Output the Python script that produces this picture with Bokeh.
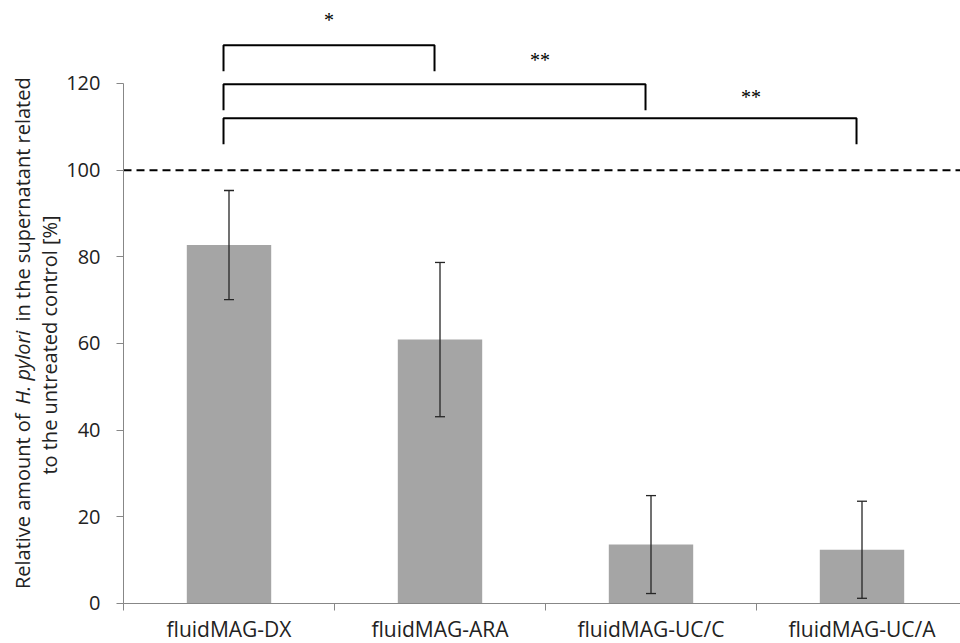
import numpy as np
from bokeh.plotting import figure
from bokeh.models import (Range1d, FixedTicker, Whisker, TeeHead,
                          ColumnDataSource, Label, CustomJSTickFormatter)
from bokeh.embed import file_html
from bokeh.resources import INLINE
from bokeh.core.properties import value

# ---- data ----
categories = ["fluidMAG-DX", "fluidMAG-ARA", "fluidMAG-UC/C", "fluidMAG-UC/A"]
means = [82.7, 60.9, 13.6, 12.4]
errors = [12.6, 17.8, 11.3, 11.2]
y_ticks = [0, 20, 40, 60, 80, 100, 120]
reference_level = 100
comparisons = [(0, 1), (0, 2), (0, 3)]
significance = ["*", "**", "**"]
bracket_levels = [128.8, 119.8, 112.0]
star_levels = [134.75, 125.35, 116.95]

FONT = "Open Sans"
TXT = "#222222"
AXC = "#878787"

W, H = 960, 643
x = np.arange(len(categories)) + 0.5
lower = [m - e for m, e in zip(means, errors)]
upper = [m + e for m, e in zip(means, errors)]

p = figure(width=W, height=H,
           x_range=Range1d(-0.58294, 3.9668), y_range=Range1d(-9.231, 139.15),
           output_backend="svg", toolbar_location=None,
           min_border_left=0, min_border_right=0,
           min_border_top=0, min_border_bottom=0)
p.outline_line_color = None
p.xgrid.grid_line_color = None
p.ygrid.grid_line_color = None
p.background_fill_color = "white"
p.border_fill_color = "white"

# bars
p.vbar(x=x, top=means, width=0.4, fill_color="#A5A5A5", line_color=None)

# error bars
src = ColumnDataSource(dict(x=x, lower=lower, upper=upper))
w = Whisker(base="x", lower="lower", upper="upper", source=src,
            line_color="#262626", line_width=1.3, level="overlay",
            upper_head=TeeHead(size=10, line_color="#262626", line_width=1.3),
            lower_head=TeeHead(size=10, line_color="#262626", line_width=1.3))
p.add_layout(w)

# reference line at 100 % (from the y axis to the right edge)
p.line(x=[0, len(categories)], y=[reference_level, reference_level],
       line_color="black", line_dash="8 5", line_width=2)

# significance brackets
dx = -0.026
leg = 6.0
xs, ys, sx, sy = [], [], [], []
for (a, b), lvl, st in zip(comparisons, bracket_levels, star_levels):
    xa, xb = x[a] + dx, x[b] + dx
    xs.append([xa, xa, xb, xb])
    ys.append([lvl - leg, lvl, lvl, lvl - leg])
    sx.append((x[b - 1] + x[b]) / 2 + dx)
    sy.append(st)
p.multi_line(xs, ys, line_color="black", line_width=2)
p.text(x=sx, y=sy, text=significance, text_font=value("Liberation Serif"),
       text_font_size="20px", text_align="center", text_baseline="alphabetic",
       text_color="black")

# y axis (drawn at x = 0)
ya = p.yaxis[0]
ya.fixed_location = 0
ya.ticker = FixedTicker(ticks=y_ticks)
ya.bounds = (0, 120)
ya.axis_line_color = AXC
ya.major_tick_line_color = AXC
ya.major_tick_out = 7
ya.major_tick_in = 0
ya.minor_tick_out = 0
ya.minor_tick_in = 0
ya.major_label_text_font = FONT
ya.major_label_text_font_size = "20px"
ya.major_label_text_color = TXT
ya.major_label_standoff = 16

# x axis (drawn at y = 0): labels at category centres, ticks between categories
xa_ = p.xaxis[0]
xa_.fixed_location = 0
xa_.bounds = (0, 4)
xa_.ticker = FixedTicker(ticks=list(x), minor_ticks=list(range(len(categories))))
xa_.formatter = CustomJSTickFormatter(args=dict(labels=categories),
                                      code="return labels[Math.round(tick - 0.5)];")
xa_.axis_line_color = AXC
xa_.major_tick_out = 0
xa_.major_tick_in = 0
xa_.minor_tick_line_color = AXC
xa_.minor_tick_out = 7
xa_.minor_tick_in = 0
xa_.major_label_text_font = FONT
xa_.major_label_text_font_size = "21px"
xa_.major_label_text_color = TXT
xa_.major_label_standoff = 5

# y axis title (two lines, with italic species name)
lab_kw = dict(angle=np.pi / 2, x_units="data", y_units="data",
              text_font=FONT, text_font_size="20px", text_color=TXT,
              text_baseline="middle")
p.add_layout(Label(x=-0.4787, y=43.85, text="Relative amount of",
                   text_align="right", **lab_kw))
p.add_layout(Label(x=-0.4787, y=54.46, text="H. pylori", text_font_style="italic",
                   text_align="center", **lab_kw))
p.add_layout(Label(x=-0.4787, y=65.08, text="in the supernatant  related",
                   text_align="left", **lab_kw))
p.add_layout(Label(x=-0.3507, y=59.65, text="to the untreated control [%]",
                   text_align="center", **lab_kw))

open("out.html", "w").write(file_html(p, INLINE))
